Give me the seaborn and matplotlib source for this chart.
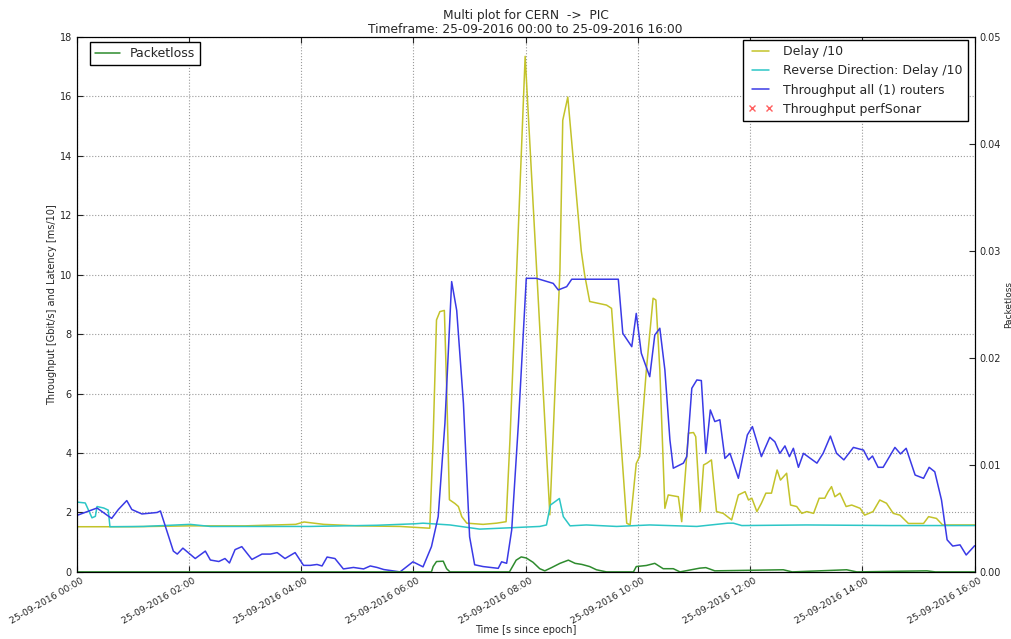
import pandas as pd
import matplotlib
matplotlib.use('Agg')
import matplotlib.pyplot as plt
import matplotlib.dates as mdates
import matplotlib.transforms as mtransforms
import seaborn as sns

# hours after 25-09-2016 00:00
tput_hours = [0.0, 0.36, 0.62, 0.74, 0.89, 0.98, 1.16, 1.43, 1.49, 1.72, 1.79, 1.89, 2.11, 2.29,
              2.38, 2.53, 2.64, 2.72, 2.82, 2.94, 3.12, 3.30, 3.45, 3.57, 3.71, 3.89, 4.04, 4.16,
              4.28, 4.37, 4.46, 4.60, 4.75, 4.93, 5.11, 5.23, 5.35, 5.47, 5.76, 5.99, 6.17, 6.32,
              6.44, 6.56, 6.68, 6.77, 6.89, 7.00, 7.09, 7.24, 7.51, 7.57, 7.66, 7.75, 7.87, 8.01,
              8.19, 8.49, 8.58, 8.73, 8.82, 9.65, 9.73, 9.89, 9.97, 10.06, 10.21, 10.30, 10.39,
              10.48, 10.57, 10.63, 10.81, 10.87, 10.96, 11.05, 11.13, 11.21, 11.29, 11.37, 11.46,
              11.55, 11.64, 11.79, 11.95, 12.04, 12.20, 12.35, 12.44, 12.53, 12.62, 12.70, 12.77,
              12.86, 12.95, 13.19, 13.30, 13.43, 13.54, 13.67, 13.84, 14.02, 14.11, 14.18, 14.28,
              14.37, 14.58, 14.68, 14.78, 14.94, 15.09, 15.19, 15.29, 15.41, 15.51, 15.61, 15.74,
              15.85, 16.0]
tput_values = [1.9, 2.15, 1.8, 2.1, 2.4, 2.1, 1.95, 2.0, 2.05, 0.7, 0.6, 0.8, 0.45, 0.7,
               0.4, 0.35, 0.45, 0.3, 0.75, 0.85, 0.42, 0.6, 0.6, 0.65, 0.45, 0.65, 0.22, 0.22,
               0.25, 0.2, 0.5, 0.45, 0.1, 0.15, 0.1, 0.2, 0.15, 0.08, 0.0, 0.34, 0.17, 0.85,
               1.86, 5.0, 9.77, 8.8, 5.67, 1.18, 0.24, 0.18, 0.12, 0.34, 0.29, 1.41, 5.0, 9.88,
               9.88, 9.71, 9.49, 9.6, 9.85, 9.85, 8.03, 7.58, 8.7, 7.36, 6.57, 7.97, 8.2,
               6.8, 4.44, 3.49, 3.66, 3.88, 6.18, 6.46, 6.44, 3.99, 5.45, 5.06, 5.12,
               3.82, 3.99, 3.15, 4.61, 4.89, 3.88, 4.53, 4.38, 3.99, 4.24, 3.88, 4.16,
               3.52, 3.99, 3.66, 3.99, 4.57, 3.99, 3.77, 4.19, 4.1, 3.77, 3.9, 3.52,
               3.52, 4.19, 3.97, 4.16, 3.26, 3.15, 3.52, 3.37, 2.42, 1.08, 0.87, 0.91,
               0.57, 0.88]

delay_hours = [0.0, 1.0, 2.0, 3.0, 3.9, 4.05, 4.4, 5.0, 5.76, 6.29, 6.35, 6.41, 6.47, 6.55, 6.59,
               6.64, 6.74, 6.80, 6.86, 6.95, 7.24, 7.48, 7.65, 7.72, 7.99, 8.43, 8.61, 8.66,
               8.75, 8.99, 9.05, 9.14, 9.44, 9.53, 9.80, 9.86, 9.97, 10.03, 10.15, 10.27, 10.32,
               10.39, 10.48, 10.54, 10.72, 10.78, 10.90, 10.99, 11.03, 11.11, 11.17, 11.23,
               11.31, 11.40, 11.52, 11.67, 11.79, 11.91, 11.97, 12.03, 12.12, 12.20, 12.28,
               12.38, 12.48, 12.54, 12.65, 12.72, 12.83, 12.92, 13.01, 13.13, 13.23, 13.33,
               13.39, 13.45, 13.51, 13.60, 13.71, 13.81, 13.96, 14.04, 14.19, 14.31, 14.43,
               14.55, 14.67, 14.82, 15.09, 15.18, 15.32, 15.43, 16.0]
delay_values = [1.52, 1.52, 1.55, 1.55, 1.6, 1.68, 1.6, 1.55, 1.53, 1.47, 4.48, 8.48, 8.76, 8.8, 6.24,
                2.43, 2.3, 2.2, 1.86, 1.64, 1.6, 1.64, 1.69, 4.48, 17.35, 1.92, 10.16, 15.2,
                15.98, 10.8, 10.0, 9.1, 8.98, 8.87, 1.64, 1.58, 3.65, 3.88, 6.8, 9.21, 9.15,
                6.8, 2.14, 2.59, 2.53, 1.69, 4.67, 4.69, 4.55, 2.03, 3.6, 3.66,
                3.77, 2.03, 1.97, 1.75, 2.59, 2.7, 2.42, 2.48, 2.03, 2.31, 2.65,
                2.65, 3.43, 3.09, 3.32, 2.25, 2.2, 1.97, 2.03, 1.97, 2.48, 2.48,
                2.7, 2.87, 2.53, 2.65, 2.2, 2.25, 2.14, 1.91, 2.03, 2.42, 2.31,
                1.97, 1.91, 1.63, 1.63, 1.86, 1.8, 1.58, 1.58]

reverse_hours = [0.0, 0.15, 0.27, 0.33, 0.36, 0.48, 0.56, 0.59, 1.19, 2.02, 2.38, 4.16, 5.35, 6.03,
                 6.17, 6.65, 7.18, 7.54, 8.25, 8.37, 8.44, 8.60, 8.67, 8.79, 9.08, 9.62, 10.21,
                 11.05, 11.6, 11.7, 11.85, 13.0, 14.5, 16.0]
reverse_values = [2.35, 2.32, 1.82, 1.87, 2.2, 2.15, 2.08, 1.52, 1.53, 1.6, 1.53, 1.53, 1.57, 1.62,
                  1.64, 1.58, 1.44, 1.47, 1.53, 1.58, 2.25, 2.47, 1.86, 1.55, 1.58, 1.53, 1.58,
                  1.53, 1.64, 1.64, 1.56, 1.58, 1.56, 1.56]

loss_hours = [0.0, 6.32, 6.35, 6.41, 6.53, 6.59, 6.65, 7.71, 7.83, 7.92, 8.01, 8.13, 8.25, 8.34,
              8.46, 8.61, 8.76, 8.88, 9.0, 9.14, 9.26, 9.44, 9.92, 9.97, 10.15, 10.30, 10.45,
              10.63, 10.75, 11.1, 11.21, 11.37, 12.59, 12.75, 13.72, 13.9, 15.15, 15.3, 16.0]
loss_values = [0.0, 0.0, 0.0005, 0.00097, 0.001, 0.0003, 0.0, 0.0, 0.0011, 0.0014, 0.0013, 0.0009,
               0.0003, 0.0001, 0.0004, 0.0008, 0.0011, 0.0008, 0.0007, 0.0005, 0.0002, 0.0,
               0.0, 0.0005, 0.0006, 0.0008, 0.0003, 0.0003, 0.0, 0.00035, 0.0004, 0.0001,
               0.0002, 0.0, 0.0002, 0.0, 0.0001, 0.0, 0.0]

perfsonar_hours = []
perfsonar_values = []

start = pd.Timestamp('2016-09-25 00:00')


def to_time(hours):
    return start + pd.to_timedelta(pd.Series(hours, dtype=float), unit='h')


sns.set_style('whitegrid', {'grid.linestyle': ':', 'grid.color': '#9a9a9a',
                            'axes.edgecolor': 'black', 'xtick.bottom': True,
                            'ytick.left': True, 'xtick.direction': 'in',
                            'ytick.direction': 'in'})
plt.rcParams['font.family'] = ['DejaVu Sans']

fig = plt.figure(figsize=(10.11, 6.39), dpi=100)
ax = fig.add_axes([0.076, 0.105, 0.888, 0.837])

sns.lineplot(x=to_time(delay_hours), y=delay_values, ax=ax, color='#c3c32a', lw=1.1,
             label='Delay /10')
sns.lineplot(x=to_time(reverse_hours), y=reverse_values, ax=ax, color='#2cc6c6', lw=1.1,
             label='Reverse Direction: Delay /10')
sns.lineplot(x=to_time(tput_hours), y=tput_values, ax=ax, color='#3a3ae6', lw=1.1,
             label='Throughput all (1) routers')
ax.plot(to_time(perfsonar_hours), perfsonar_values, 'x', color='#ff6060', ms=4,
        label='Throughput perfSonar')

ax.set_xlim(start, start + pd.Timedelta(hours=16))
ax.set_ylim(0, 18)
ax.set_yticks(range(0, 19, 2))
ax.xaxis.set_major_locator(mdates.HourLocator(interval=2))
ax.xaxis.set_major_formatter(mdates.DateFormatter('%d-%m-%Y %H:%M'))
ax.tick_params(axis='x', labelsize=6.7, rotation=30, length=4, top=True, pad=3)
ax.tick_params(axis='y', labelsize=7, length=4)
shift = mtransforms.ScaledTranslation(8 / 100, 0, fig.dpi_scale_trans)
for lbl in ax.get_xticklabels():
    lbl.set_ha('right')
    lbl.set_transform(lbl.get_transform() + shift)
ax.set_xlabel('Time [s since epoch]', fontsize=7, labelpad=0)
ax.set_ylabel('Throughput [Gbit/s] and Latency [ms/10]', fontsize=7, labelpad=2)
ax.set_title('Multi plot for CERN  ->  PIC\nTimeframe: 25-09-2016 00:00 to 25-09-2016 16:00',
             fontsize=8.8, linespacing=1.05, pad=3)
leg = ax.legend(loc='upper right', bbox_to_anchor=(0.9922, 0.9944), borderaxespad=0,
                fontsize=9, numpoints=2, fancybox=False, edgecolor='black', framealpha=1,
                labelspacing=0.5)
leg.get_frame().set_linewidth(1.0)

ax2 = ax.twinx()
sns.lineplot(x=to_time(loss_hours), y=loss_values, ax=ax2, color='#2e8b2e', lw=1.1,
             label='Packetloss')
ax2.grid(False)
ax2.set_ylim(0, 0.05)
ax2.set_yticks([0.0, 0.01, 0.02, 0.03, 0.04, 0.05])
ax2.yaxis.set_major_formatter(matplotlib.ticker.FormatStrFormatter('%.2f'))
ax2.tick_params(axis='y', labelsize=7, length=4, direction='in', right=True)
ax2.set_ylabel('Packetloss', fontsize=6.5, labelpad=2)
leg2 = ax2.legend(loc='upper left', bbox_to_anchor=(0.0145, 0.9907), borderaxespad=0,
                  fontsize=9, fancybox=False, edgecolor='black', framealpha=1)
leg2.get_frame().set_linewidth(1.0)
for sp in ax2.spines.values():
    sp.set_color('black')

fig.savefig('out.png', dpi=100)
